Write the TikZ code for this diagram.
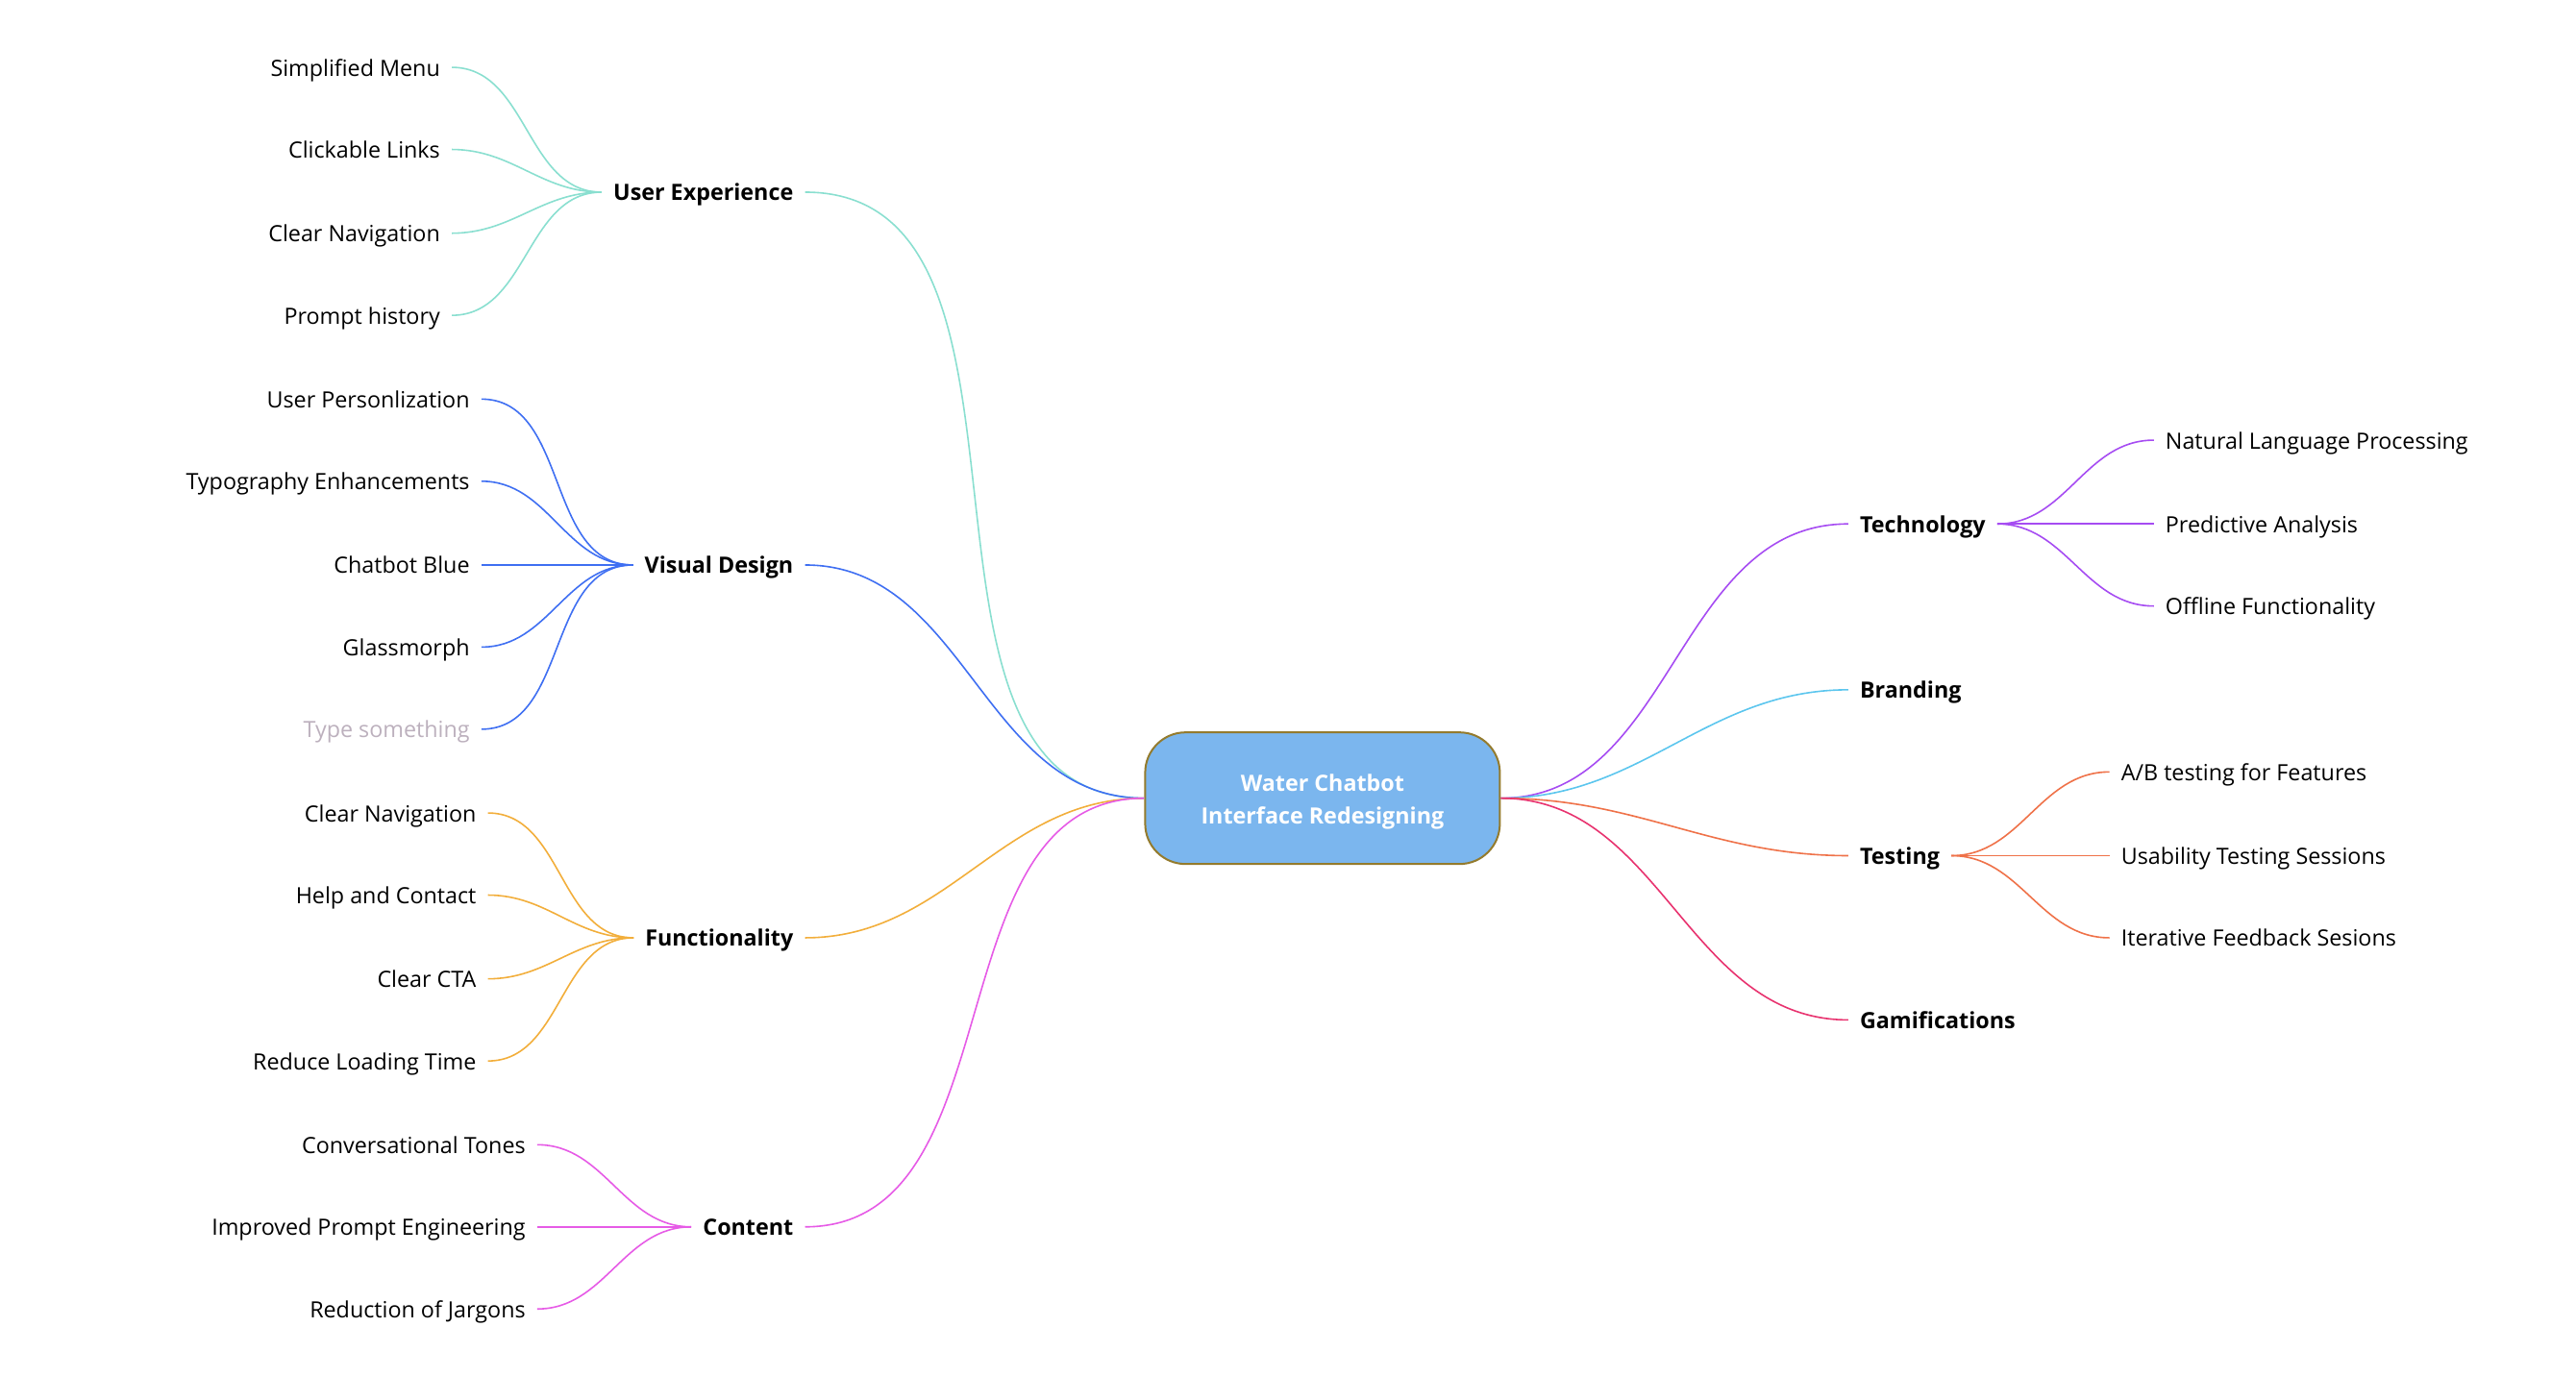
\documentclass[tikz,border=0pt]{standalone}
\usepackage{fontspec}
\setmainfont{Open Sans}
\usetikzlibrary{positioning}
\definecolor{hubfill}{HTML}{7BB6EE}
\definecolor{hubrim}{HTML}{947B2D}
\definecolor{uxcol}{HTML}{8ADFD0}
\definecolor{vdcol}{HTML}{3F6FF2}
\definecolor{fncol}{HTML}{F2AE3B}
\definecolor{ctcol}{HTML}{E65BE6}
\definecolor{tecol}{HTML}{A64CF2}
\definecolor{brcol}{HTML}{5CC6EE}
\definecolor{tscol}{HTML}{EF7249}
\definecolor{gmcol}{HTML}{E8336F}
\definecolor{hint}{HTML}{BCB0BD}
\tikzset{%
hub/.style={draw=hubrim, line width=2pt, fill=hubfill, rounded corners=42pt, minimum width=369pt, minimum height=137pt, text=white, align=center, text height=58pt, text depth=5pt, font=\fontsize{23.3}{34}\selectfont\bfseries},
topic/.style={font=\fontsize{23.3}{30}\selectfont\bfseries, inner xsep=12pt, inner ysep=0pt, text height=22pt, text depth=4pt},
leaf/.style={font=\fontsize{23.3}{30}\selectfont, inner xsep=12pt, inner ysep=0pt, text height=22pt, text depth=4pt},
link/.style={line width=1.6pt},
tol/.style={out=180, in=0},
tor/.style={out=0, in=180}
}

\begin{document}
\begin{tikzpicture}[x=1.7092pt, y=-1.7092pt]
		\useasboundingbox (0,0) rectangle (1568,837.8);
		% centre
		\node[hub] (hub) at (805,486) {Water Chatbot\\Interface Redesigning};
	
		% left topics
		\node[topic, anchor=east] (ux) at (490,117) {User Experience};
		\node[topic, anchor=east] (vd) at (490,344) {Visual Design};
		\node[topic, anchor=east] (fn) at (490,571) {Functionality};
		\node[topic, anchor=east] (ct) at (490,747) {Content};
	
		% right topics
		\node[topic, anchor=west] (te) at (1125,319) {Technology};
		\node[topic, anchor=west] (br) at (1125,420) {Branding};
		\node[topic, anchor=west] (ts) at (1125,521) {Testing};
		\node[topic, anchor=west] (gm) at (1125,621) {Gamifications};
	
		% user experience
		\node[leaf, anchor=east] (ux1) at (275,41) {Simplified Menu};
		\node[leaf, anchor=east] (ux2) at (275,91) {Clickable Links};
		\node[leaf, anchor=east] (ux3) at (275,142) {Clear Navigation};
		\node[leaf, anchor=east] (ux4) at (275,192) {Prompt history};
	
		% visual design
		\node[leaf, anchor=east] (vd1) at (293,243) {User Personlization};
		\node[leaf, anchor=east] (vd2) at (293,293) {Typography Enhancements};
		\node[leaf, anchor=east] (vd3) at (293,344) {Chatbot Blue};
		\node[leaf, anchor=east] (vd4) at (293,394) {Glassmorph};
		\node[leaf, anchor=east, text=hint] (vd5) at (293,444) {Type something};
	
		% functionality
		\node[leaf, anchor=east] (fn1) at (297,495) {Clear Navigation};
		\node[leaf, anchor=east] (fn2) at (297,545) {Help and Contact};
		\node[leaf, anchor=east] (fn3) at (297,596) {Clear CTA};
		\node[leaf, anchor=east] (fn4) at (297,646) {Reduce Loading Time};
	
		% content
		\node[leaf, anchor=east] (ct1) at (327,697) {Conversational Tones};
		\node[leaf, anchor=east] (ct2) at (327,747) {Improved Prompt Engineering};
		\node[leaf, anchor=east] (ct3) at (327,797) {Reduction of Jargons};
	
		% technology
		\node[leaf, anchor=west] (te1) at (1311,268) {Natural Language Processing};
		\node[leaf, anchor=west] (te2) at (1311,319) {Predictive Analysis};
		\node[leaf, anchor=west] (te3) at (1311,369) {Offline Functionality};
	
		% testing
		\node[leaf, anchor=west] (ts1) at (1284,470) {A/B testing for Features};
		\node[leaf, anchor=west] (ts2) at (1284,521) {Usability Testing Sessions};
		\node[leaf, anchor=west] (ts3) at (1284,571) {Iterative Feedback Sesions};
	
		% centre to topics
		\draw[link, uxcol] (hub.west) to[tol] (ux.east);
		\draw[link, vdcol] (hub.west) to[tol] (vd.east);
		\draw[link, fncol] (hub.west) to[tol] (fn.east);
		\draw[link, ctcol] (hub.west) to[tol] (ct.east);
		\draw[link, tecol] (hub.east) to[tor] (te.west);
		\draw[link, brcol] (hub.east) to[tor] (br.west);
		\draw[link, tscol] (hub.east) to[tor] (ts.west);
		\draw[link, gmcol] (hub.east) to[tor] (gm.west);
	
		% topics to leaves
		\draw[link, uxcol] (ux1.east) to[tor] (ux.west);
		\draw[link, uxcol] (ux2.east) to[tor] (ux.west);
		\draw[link, uxcol] (ux3.east) to[tor] (ux.west);
		\draw[link, uxcol] (ux4.east) to[tor] (ux.west);
	
		\draw[link, vdcol] (vd1.east) to[tor] (vd.west);
		\draw[link, vdcol] (vd2.east) to[tor] (vd.west);
		\draw[link, vdcol] (vd3.east) to[tor] (vd.west);
		\draw[link, vdcol] (vd4.east) to[tor] (vd.west);
		\draw[link, vdcol] (vd5.east) to[tor] (vd.west);
	
		\draw[link, fncol] (fn1.east) to[tor] (fn.west);
		\draw[link, fncol] (fn2.east) to[tor] (fn.west);
		\draw[link, fncol] (fn3.east) to[tor] (fn.west);
		\draw[link, fncol] (fn4.east) to[tor] (fn.west);
	
		\draw[link, ctcol] (ct1.east) to[tor] (ct.west);
		\draw[link, ctcol] (ct2.east) to[tor] (ct.west);
		\draw[link, ctcol] (ct3.east) to[tor] (ct.west);
	
		\draw[link, tecol] (te.east) to[tor] (te1.west);
		\draw[link, tecol] (te.east) to[tor] (te2.west);
		\draw[link, tecol] (te.east) to[tor] (te3.west);
	
		\draw[link, tscol] (ts.east) to[tor] (ts1.west);
		\draw[link, tscol] (ts.east) to[tor] (ts2.west);
		\draw[link, tscol] (ts.east) to[tor] (ts3.west);
	\end{tikzpicture}
\end{document}
